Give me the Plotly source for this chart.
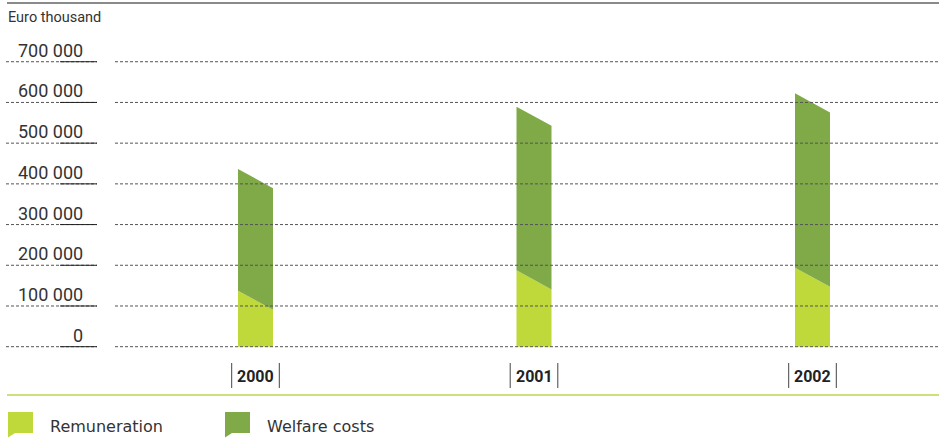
import plotly.graph_objects as go

# ---------------- data ----------------
years = ["2000", "2001", "2002"]
remuneration = [114000, 164000, 170500]
welfare_costs = [299000, 402000, 428500]
y_ticks = [0, 100000, 200000, 300000, 400000, 500000, 600000, 700000]
y_tick_labels = ["0", "100 000", "200 000", "300 000", "400 000", "500 000", "600 000", "700 000"]
unit_label = "Euro thousand"
legend_names = ["Remuneration", "Welfare costs"]

# ---------------- style ----------------
W, H = 939, 438
C_REM = "#bfd83a"
C_WEL = "#7faa47"
C_TEXT = "#333333"
C_GRID = "#555555"
FONT = "Roboto"

# pixel geometry (window pixels; body margin removed below)
zero_px = 346.7          # pixel row of value 0
px_per_unit = 40.71 / 100000
x0_px = 255.5            # pixel column of first category
px_per_cat = 278.5
bar_half_px = 17.5
slant_half = 23500       # half of the decorative slant of the bar tops (value units)

y_top = zero_px / px_per_unit
y_bot = -(H - zero_px) / px_per_unit
x_left = -x0_px / px_per_cat
x_right = (W - x0_px) / px_per_cat
bw = bar_half_px / px_per_cat


def px_x(p):
    return p / W


def px_y(p):
    return 1 - p / H


fig = go.Figure()

for i, yr in enumerate(years):
    xc = i
    r = remuneration[i]
    t = r + welfare_costs[i]
    fig.add_trace(go.Scatter(
        x=[xc - bw, xc + bw, xc + bw, xc - bw, xc - bw],
        y=[0, 0, r - slant_half, r + slant_half, 0],
        fill="toself", fillcolor=C_REM, mode="lines",
        line=dict(width=0, color=C_REM), hoverinfo="skip", showlegend=False))
    fig.add_trace(go.Scatter(
        x=[xc - bw, xc + bw, xc + bw, xc - bw, xc - bw],
        y=[r + slant_half, r - slant_half, t - slant_half, t + slant_half, r + slant_half],
        fill="toself", fillcolor=C_WEL, mode="lines",
        line=dict(width=0, color=C_WEL), hoverinfo="skip", showlegend=False))

shapes = []
annotations = []

# top rule
shapes.append(dict(type="line", xref="paper", yref="paper",
                   x0=px_x(7), x1=1, y0=px_y(3), y1=px_y(3),
                   line=dict(color="#8a8a8a", width=2)))

# gridlines, underline and tick labels
for v, lab in zip(y_ticks, y_tick_labels):
    shapes.append(dict(type="line", xref="paper", yref="y", layer="above",
                       x0=px_x(6), x1=px_x(97), y0=v, y1=v,
                       line=dict(color=C_GRID, width=1, dash="3px,2px")))
    shapes.append(dict(type="line", xref="paper", yref="y", layer="above",
                       x0=px_x(115), x1=1, y0=v, y1=v,
                       line=dict(color=C_GRID, width=1, dash="3px,2px")))
    shapes.append(dict(type="line", xref="paper", yref="y", layer="above",
                       x0=px_x(60), x1=px_x(97), y0=v, y1=v,
                       line=dict(color="#222222", width=1)))
    annotations.append(dict(x=px_x(85), y=v, xref="paper", yref="y",
                            text=lab, showarrow=False, xanchor="right", yanchor="bottom",
                            yshift=-1, font=dict(family=FONT, size=18, color=C_TEXT)))

# unit label
annotations.append(dict(x=px_x(6), y=px_y(18), xref="paper", yref="paper",
                        text=unit_label, showarrow=False, xanchor="left", yanchor="middle",
                        font=dict(family=FONT, size=14.5, color=C_TEXT)))

# category labels with separators
sep = 23.8 / px_per_cat
for i, yr in enumerate(years):
    annotations.append(dict(x=i, y=px_y(376), xref="x", yref="paper",
                            text="<b>%s</b>" % yr, showarrow=False,
                            xanchor="center", yanchor="middle",
                            font=dict(family=FONT, size=16, color="#222222")))
    for s in (-sep, sep):
        shapes.append(dict(type="line", xref="x", yref="paper",
                           x0=i + s, x1=i + s, y0=px_y(363), y1=px_y(388),
                           line=dict(color="#444444", width=1)))

# green rule above legend
shapes.append(dict(type="line", xref="paper", yref="paper",
                   x0=px_x(7), x1=1, y0=px_y(395), y1=px_y(395),
                   line=dict(color="#cde07a", width=2)))

# legend markers (speech-bubble squares)
for lx, col, name, tx in [(8, C_REM, legend_names[0], 48), (225, C_WEL, legend_names[1], 265)]:
    pts = [(lx, 412), (lx + 25, 412), (lx + 25, 433), (lx + 7, 433), (lx, 437.5)]
    path = "M " + " L ".join("%.5f,%.5f" % (px_x(a), px_y(b)) for a, b in pts) + " Z"
    shapes.append(dict(type="path", xref="paper", yref="paper", path=path,
                       fillcolor=col, line=dict(width=0)))
    annotations.append(dict(x=px_x(tx), y=px_y(426), xref="paper", yref="paper",
                            text=name, showarrow=False, xanchor="left", yanchor="middle",
                            font=dict(family="DejaVu Sans", size=16, color=C_TEXT)))

fig.update_layout(
    width=W, height=H,
    margin=dict(l=0, r=0, t=0, b=0),
    paper_bgcolor="white", plot_bgcolor="white",
    xaxis=dict(range=[x_left, x_right], visible=False, fixedrange=True),
    yaxis=dict(range=[y_bot, y_top], visible=False, fixedrange=True),
    shapes=shapes, annotations=annotations, showlegend=False,
    hovermode=False,
)

fig.write_html("out.html",
               config={"displayModeBar": False, "staticPlot": True},
               post_script="document.body.style.margin='0';document.body.style.overflow='hidden';")
